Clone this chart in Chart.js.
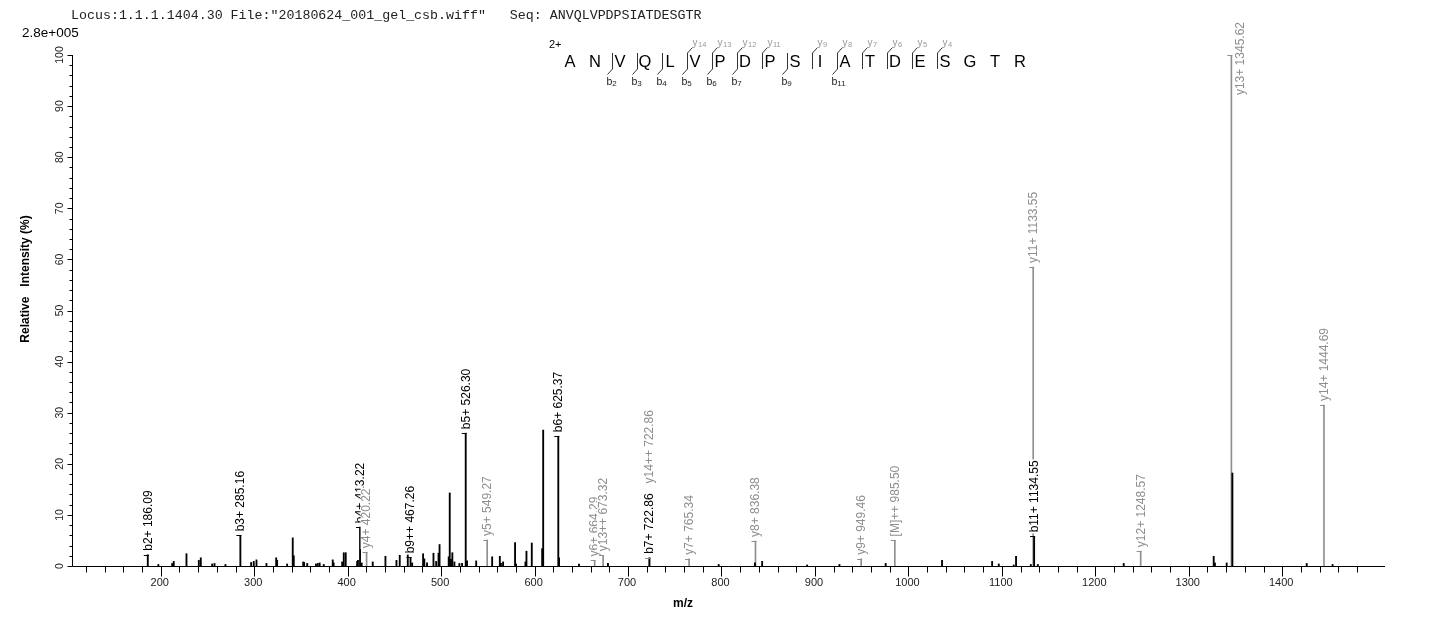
<!DOCTYPE html>
<html>
<head>
<meta charset="utf-8">
<script src="https://cdn.jsdelivr.net/npm/chart.js@4.4.1/dist/chart.umd.min.js"></script>
<style>
  html, body { margin: 0; padding: 0; background: #fff; }
  #wrap { position: relative; width: 1436px; height: 625px; }
</style>
</head>
<body>
<div id="wrap"><canvas id="spectrum"></canvas></div>
<script>
const headerText = 'Locus:1.1.1.1404.30 File:"20180624_001_gel_csb.wiff"   Seq: ANVQLVPDPSIATDESGTR';
const maxIntensityText = '2.8e+005';
const chargeText = '2+';
const sequence = 'ANVQLVPDPSIATDESGTR';
const bCleavages = [2, 3, 4, 5, 6, 7, 9, 11];
const yCleavages = [14, 13, 12, 11, 9, 8, 7, 6, 5, 4];

// unassigned peaks (m/z, relative intensity %)
const peakMz = [197.4, 212.2, 213.9, 227.5, 240.7, 242.8, 255.0, 257.5, 269.2, 296.7,
  299.5, 302.4, 313.1, 323.5, 324.5, 335.2, 341.2, 342.3, 352.4, 353.4,
  356.7, 366.0, 368.0, 370.0, 374.4, 384.0, 385.0, 394.1, 395.8, 397.9,
  410.1, 411.0, 415.0, 426.8, 440.4, 452.2, 455.7, 464.3, 469.0, 480.7,
  482.0, 484.9, 491.8, 494.7, 497.2, 498.3, 508.1, 509.2, 510.5, 512.0,
  514.2, 519.5, 522.4, 527.7, 537.5, 554.6, 562.8, 564.0, 566.3, 579.1,
  580.2, 590.2, 591.3, 597.0, 608.1, 609.2, 626.2, 647.5, 678.5, 797.0,
  835.8, 843.5, 891.6, 926.2, 975.7, 1036.0, 1089.6, 1096.7, 1112.7, 1115.2,
  1131.0, 1138.5, 1230.4, 1326.7, 1328.0, 1340.6, 1346.7, 1426.2, 1453.9];
const peakInt = [0.3, 0.5, 0.9, 2.4, 1.1, 1.6, 0.4, 0.5, 0.3, 0.7,
  0.9, 1.2, 0.5, 1.6, 1.1, 0.4, 5.5, 2.0, 0.8, 0.7,
  0.5, 0.4, 0.5, 0.6, 0.3, 1.2, 0.6, 0.8, 2.6, 2.6,
  0.9, 1.1, 0.6, 0.8, 1.9, 1.1, 2.1, 2.2, 0.6, 2.4,
  1.4, 0.6, 2.5, 0.9, 2.5, 4.2, 1.8, 14.3, 1.3, 2.6,
  0.8, 0.5, 0.5, 1.0, 1.0, 1.8, 1.9, 0.5, 0.8, 4.6,
  0.4, 0.8, 2.9, 4.5, 3.4, 26.6, 1.6, 0.4, 0.5, 0.3,
  0.6, 0.9, 0.2, 0.3, 0.5, 1.1, 0.9, 0.4, 0.2, 1.9,
  0.3, 0.3, 0.5, 1.9, 0.6, 0.6, 18.2, 0.5, 0.3];

// b ions
const bIonMz = [186.09, 285.16, 413.22, 467.26, 526.30, 625.37, 722.86, 1134.55];
const bIonInt = [2.2, 6.0, 7.6, 1.7, 26.0, 25.4, 1.6, 5.8];
const bIonText = ['b2+ 186.09', 'b3+ 285.16', 'b4+ 413.22', 'b9++ 467.26', 'b5+ 526.30',
  'b6+ 625.37', 'b7+ 722.86', 'b11+ 1134.55'];

// y ions and precursor
const yIonMz = [420.22, 549.27, 664.29, 673.32, 722.86, 765.34, 836.38, 949.46, 985.50,
  1133.55, 1248.57, 1345.62, 1444.69];
const yIonInt = [2.7, 5.1, 1.1, 2.1, 1.6, 1.4, 4.9, 1.4, 5.0, 58.5, 2.9, 100, 31.5];
const yIonText = ['y4+ 420.22', 'y5+ 549.27', 'y6+ 664.29', 'y13++ 673.32', 'y14++ 722.86',
  'y7+ 765.34', 'y8+ 836.38', 'y9+ 949.46', '[M]++ 985.50', 'y11+ 1133.55',
  'y12+ 1248.57', 'y13+ 1345.62', 'y14+ 1444.69'];

const xMajorTicks = [200, 300, 400, 500, 600, 700, 800, 900, 1000, 1100, 1200, 1300, 1400];
const xMinorTicks = [120, 140, 160, 180, 220, 240, 260, 280, 320, 340, 360, 380, 420, 440, 460, 480,
  520, 540, 560, 580, 620, 640, 660, 680, 720, 740, 760, 780, 820, 840, 860, 880,
  920, 940, 960, 980, 1020, 1040, 1060, 1080, 1120, 1140, 1160, 1180, 1220, 1240, 1260, 1280,
  1320, 1340, 1360, 1380, 1420, 1440, 1460, 1480];
const yMajorTicks = [0, 10, 20, 30, 40, 50, 60, 70, 80, 90, 100];
const yMinorStep = 2;

const GREY = '#8f8f8f';
const SANS = '"Liberation Sans", Arial, sans-serif';

const blackPoints = peakMz.map((m, i) => ({ x: m, y: peakInt[i] }))
  .concat(bIonMz.map((m, i) => ({ x: m, y: bIonInt[i] })));
const greyPoints = yIonMz.map((m, i) => ({ x: m, y: yIonInt[i] }));

function drawPeakLabels(chart) {
  const { ctx, scales: { x, y } } = chart;
  const labels = [];
  bIonMz.forEach((m, i) => labels.push({ mz: m, v: bIonInt[i], text: bIonText[i], color: '#000' }));
  yIonMz.forEach((m, i) => labels.push({ mz: m, v: yIonInt[i], text: yIonText[i], color: GREY }));
  labels.sort((a, b) => a.mz - b.mz);

  ctx.save();
  ctx.font = '12px ' + SANS;
  const placed = [];
  labels.forEach(l => {
    const px = x.getPixelForValue(l.mz);
    const top = y.getPixelForValue(l.v);
    ctx.strokeStyle = l.color;
    ctx.lineWidth = 1;
    ctx.beginPath();
    ctx.moveTo(px - 4, Math.round(top) + 0.5);
    ctx.lineTo(px + 1, Math.round(top) + 0.5);
    ctx.stroke();

    const w = ctx.measureText(l.text).width;
    let cx = px + 0.5;
    let bottom = top - 4;
    // same m/z assigned twice: stack the second label above the first
    placed.forEach(p => {
      if (Math.abs(p.mz - l.mz) < 0.1 && bottom > p.top - 10) bottom = p.top - 10;
    });
    if (bottom - w < 22) {
      bottom = 22 + w;
      cx = px + 9;
    }
    ctx.fillStyle = '#fff';
    ctx.fillRect(cx - 6.5, bottom - w - 1, 13, w + 2);
    ctx.save();
    ctx.translate(cx, bottom);
    ctx.rotate(-Math.PI / 2);
    ctx.fillStyle = l.color;
    ctx.textAlign = 'left';
    ctx.textBaseline = 'middle';
    ctx.fillText(l.text, 0, 0);
    ctx.restore();
    placed.push({ mz: l.mz, top: bottom - w });
  });
  ctx.restore();
}

function drawAxes(chart) {
  const { ctx, scales: { x, y } } = chart;
  ctx.save();
  ctx.strokeStyle = '#000';
  ctx.fillStyle = '#000';
  ctx.lineWidth = 1;

  const by = Math.round(y.getPixelForValue(0)) + 0.5;
  const lx = Math.round(x.getPixelForValue(x.min)) + 0.5;
  const rx = Math.round(x.getPixelForValue(x.max));
  const ty = Math.round(y.getPixelForValue(100));

  ctx.beginPath();
  ctx.moveTo(lx, by); ctx.lineTo(rx, by);
  ctx.moveTo(lx, ty); ctx.lineTo(lx, by);
  ctx.stroke();

  // x ticks
  ctx.beginPath();
  xMajorTicks.forEach(v => {
    const px = Math.round(x.getPixelForValue(v)) + 0.5;
    ctx.moveTo(px, by); ctx.lineTo(px, by + 10);
  });
  xMinorTicks.forEach(v => {
    const px = Math.round(x.getPixelForValue(v)) + 0.5;
    ctx.moveTo(px, by); ctx.lineTo(px, by + 6);
  });
  ctx.stroke();
  ctx.font = '11px ' + SANS;
  ctx.textAlign = 'center';
  ctx.textBaseline = 'middle';
  ctx.fillStyle = '#222';
  xMajorTicks.forEach(v => ctx.fillText(String(v), x.getPixelForValue(v) - 1, by + 16));

  // y ticks
  ctx.beginPath();
  for (let v = 0; v <= 100; v += yMinorStep) {
    const py = Math.round(y.getPixelForValue(v)) + 0.5;
    const len = v % 10 === 0 ? 5 : 3;
    ctx.moveTo(lx - len, py); ctx.lineTo(lx, py);
  }
  ctx.stroke();
  ctx.font = '10.5px ' + SANS;
  yMajorTicks.forEach(v => {
    ctx.save();
    ctx.translate(60, y.getPixelForValue(v));
    ctx.rotate(-Math.PI / 2);
    ctx.fillText(String(v), 0, 0);
    ctx.restore();
  });

  // axis titles
  ctx.fillStyle = '#000';
  ctx.font = 'bold 12px ' + SANS;
  ctx.fillText('m/z', 683, 604);
  ctx.save();
  ctx.translate(26, 279);
  ctx.rotate(-Math.PI / 2);
  ctx.fillText('Relative   Intensity (%)', 0, 0);
  ctx.restore();

  // header
  ctx.textAlign = 'left';
  ctx.font = '13.3px "Liberation Mono", "DejaVu Sans Mono", monospace';
  ctx.fillStyle = '#222';
  ctx.fillText(headerText, 71, 15);
  ctx.font = '13.5px ' + SANS;
  ctx.fillStyle = '#000';
  ctx.fillText(maxIntensityText, 22, 33);
  ctx.restore();
}

function drawSequence(chart) {
  const { ctx } = chart;
  const x0 = 570, step = 25, cy = 62.5;
  ctx.save();
  ctx.fillStyle = '#000';
  ctx.font = '11px ' + SANS;
  ctx.textAlign = 'left';
  ctx.textBaseline = 'middle';
  ctx.fillText(chargeText, 549, 45);

  ctx.font = '16.5px ' + SANS;
  ctx.textAlign = 'center';
  for (let i = 0; i < sequence.length; i++) {
    ctx.fillText(sequence[i], x0 + step * i, cy);
  }

  const cutX = k => Math.round(x0 + 16.5 + step * (k - 1)) + 0.5;
  const cuts = new Set(bCleavages.concat(yCleavages.map(n => sequence.length - n)));
  ctx.strokeStyle = '#333';
  ctx.lineWidth = 1;
  ctx.beginPath();
  cuts.forEach(k => {
    const cx = cutX(k);
    ctx.moveTo(cx, 53); ctx.lineTo(cx, 69);
  });
  bCleavages.forEach(k => {
    const cx = cutX(k);
    ctx.moveTo(cx, 69); ctx.lineTo(cx - 5, 74.5);
  });
  yCleavages.forEach(n => {
    const cx = cutX(sequence.length - n);
    ctx.moveTo(cx, 53); ctx.lineTo(cx + 5, 47.5);
  });
  ctx.stroke();

  ctx.textAlign = 'left';
  ctx.textBaseline = 'alphabetic';
  bCleavages.forEach(k => {
    const cx = cutX(k);
    ctx.fillStyle = '#222';
    ctx.font = '10.5px ' + SANS;
    ctx.fillText('b', cx - 6, 85);
    const bw = ctx.measureText('b').width;
    ctx.font = '8px ' + SANS;
    ctx.fillText(String(k), cx - 6 + bw, 86);
  });
  yCleavages.forEach(n => {
    const cx = cutX(sequence.length - n);
    ctx.fillStyle = '#999';
    ctx.font = '10px ' + SANS;
    ctx.fillText('y', cx + 5, 46);
    const yw = ctx.measureText('y').width;
    ctx.font = '7.5px ' + SANS;
    ctx.fillText(String(n), cx + 5 + yw + 0.5, 47);
  });
  ctx.restore();
}

const spectrumDecor = {
  id: 'spectrumDecor',
  afterDatasetsDraw(chart) {
    drawPeakLabels(chart);
    drawAxes(chart);
    drawSequence(chart);
  }
};

new Chart(document.getElementById('spectrum'), {
  type: 'bar',
  data: {
    datasets: [
      {
        label: 'b / unassigned',
        data: blackPoints,
        backgroundColor: '#000',
        barThickness: 1.2,
        grouped: false,
        order: 0
      },
      {
        label: 'y',
        data: greyPoints,
        backgroundColor: GREY,
        barThickness: 1,
        grouped: false,
        order: 1
      }
    ]
  },
  options: {
    responsive: true,
    maintainAspectRatio: false,
    animation: false,
    layout: { padding: { left: 72, top: 55, right: 51, bottom: 59 } },
    scales: {
      x: { type: 'linear', min: 105, max: 1510, offset: false, display: false },
      y: { min: 0, max: 100, display: false }
    },
    plugins: {
      legend: { display: false },
      tooltip: { enabled: false }
    }
  },
  plugins: [spectrumDecor]
});
</script>
</body>
</html>
